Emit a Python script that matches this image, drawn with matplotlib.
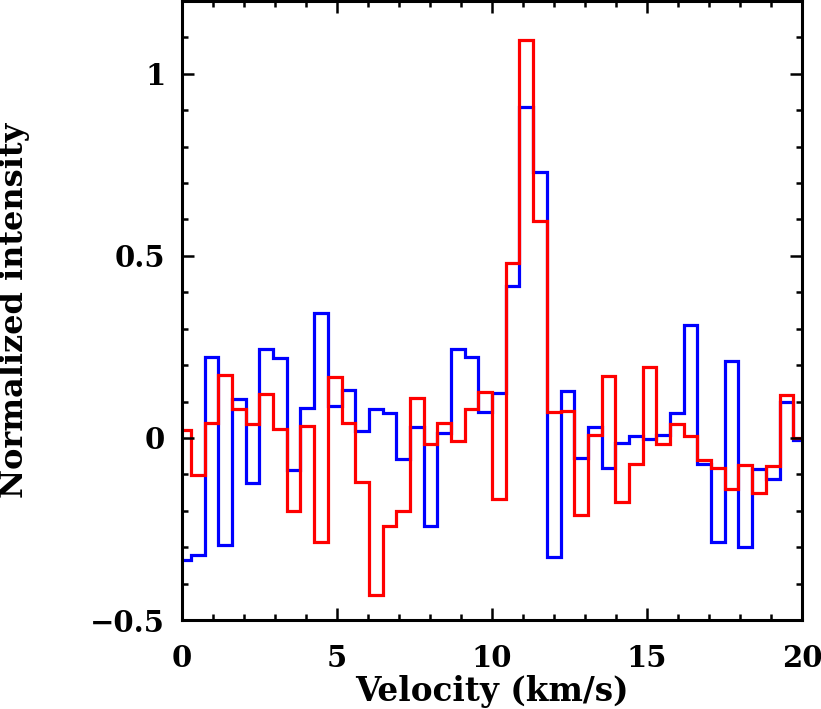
import numpy as np
import matplotlib
matplotlib.use("Agg")
import matplotlib.pyplot as plt
from matplotlib.ticker import MultipleLocator, FuncFormatter

# Velocity channel grid (km/s)
v_first_edge = -0.1515
channel_width = 0.4415

blue_values = [-0.335, -0.322, 0.222, -0.294, 0.108, -0.123, 0.245, 0.220, -0.088, 0.081,
               0.342, 0.088, 0.132, 0.020, 0.080, 0.069, -0.058, 0.031, -0.241, 0.013,
               0.244, 0.222, 0.071, 0.124, 0.418, 0.909, 0.729, -0.326, 0.130, -0.054,
               0.029, -0.083, -0.015, 0.005, -0.004, 0.008, 0.068, 0.310, -0.071, -0.285,
               0.212, -0.299, -0.086, -0.113, 0.098, -0.007]
red_values = [0.022, -0.103, 0.040, 0.172, 0.079, 0.038, 0.120, 0.025, -0.202, 0.034,
              -0.285, 0.166, 0.040, -0.120, -0.431, -0.241, -0.200, 0.111, -0.017, 0.040,
              -0.008, 0.079, 0.125, -0.167, 0.481, 1.092, 0.597, 0.071, 0.075, -0.212,
              0.008, 0.170, -0.177, -0.072, 0.194, -0.016, 0.038, 0.004, -0.060, -0.083,
              -0.139, -0.074, -0.152, -0.077, 0.119, 0.000]

x_ticks = [0, 5, 10, 15, 20]
y_ticks = [-0.5, 0, 0.5, 1]

edges = v_first_edge + channel_width * np.arange(len(blue_values) + 1)

FONT = "DejaVu Serif"
plt.rcParams["font.family"] = [FONT, "DejaVu Sans"]

fig = plt.figure(figsize=(8.21, 7.09), dpi=100)
ax = fig.add_axes([182 / 821, 1 - 620 / 709, 620 / 821, 619 / 709])

ax.stairs(blue_values, edges, baseline=None, color="#0000ff", linewidth=2.3)
ax.stairs(red_values, edges, baseline=None, color="#ff0000", linewidth=2.3)

ax.set_xlim(0, 20)
ax.set_ylim(-0.5, 1.2)

ax.set_xticks(x_ticks)
ax.set_yticks(y_ticks)
ax.xaxis.set_minor_locator(MultipleLocator(1))
ax.yaxis.set_minor_locator(MultipleLocator(0.1))

def fmt(v, pos):
    s = f"{v:g}"
    return s.replace("-", "\u2212")

ax.yaxis.set_major_formatter(FuncFormatter(fmt))
ax.xaxis.set_major_formatter(FuncFormatter(fmt))

for side in ax.spines.values():
    side.set_linewidth(2.2)
    side.set_color("black")

ax.tick_params(which="both", direction="in", top=True, right=True, color="black")
ax.tick_params(which="major", length=8.5, width=1.8, labelsize=21)
ax.tick_params(which="minor", length=4.3, width=1.8)
ax.tick_params(axis="x", which="major", pad=17)
ax.tick_params(axis="y", which="major", pad=12)

for lab in ax.get_xticklabels() + ax.get_yticklabels():
    lab.set_fontweight("bold")

fig.text(492 / 821, 1 - 692 / 709, "Velocity (km/s)", ha="center", va="center",
         fontsize=23.5, fontweight="bold")
fig.text(15 / 821, 1 - 310 / 709, "Normalized intensity", ha="center", va="center",
         rotation=90, fontsize=23, fontweight="bold")

fig.savefig("out.png", dpi=100)
